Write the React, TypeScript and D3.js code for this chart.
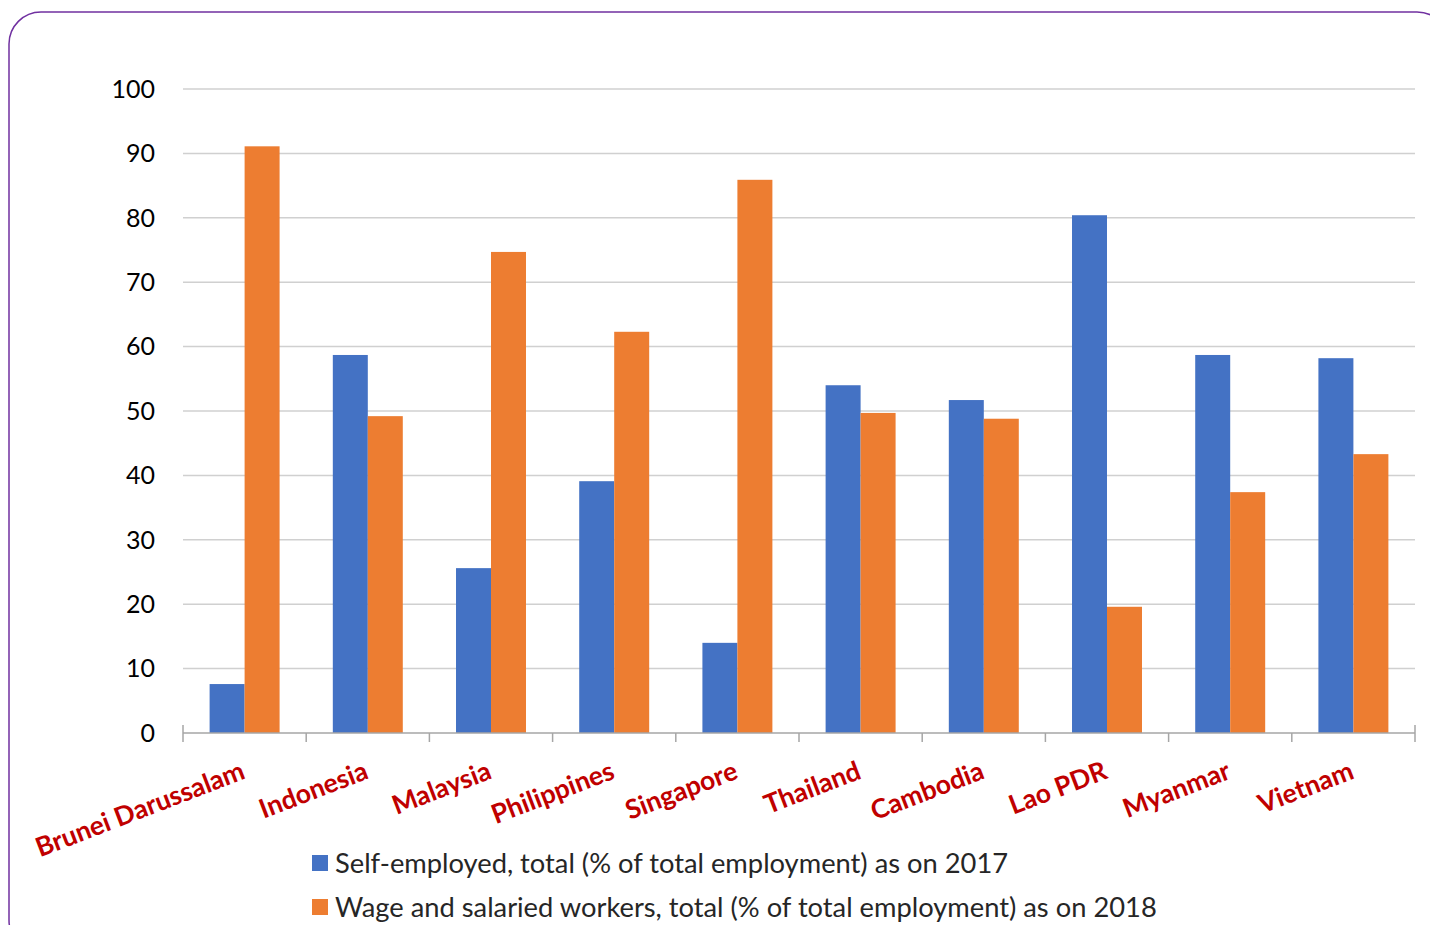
import React from "react";
import * as d3 from "d3";

const categories = [
  "Brunei Darussalam",
  "Indonesia",
  "Malaysia",
  "Philippines",
  "Singapore",
  "Thailand",
  "Cambodia",
  "Lao PDR",
  "Myanmar",
  "Vietnam",
];
const selfEmployed2017 = [7.6, 58.7, 25.6, 39.1, 14.0, 54.0, 51.7, 80.4, 58.7, 58.2];
const wageSalaried2018 = [91.1, 49.2, 74.7, 62.3, 85.9, 49.7, 48.8, 19.6, 37.4, 43.3];
const yTicks = [0, 10, 20, 30, 40, 50, 60, 70, 80, 90, 100];
const seriesNames = [
  "Self-employed, total (% of total employment) as on 2017",
  "Wage and salaried workers, total (% of total employment) as on 2018",
];
const seriesColors = ["#4472C4", "#ED7D31"];

const W = 1430;
const H = 925;
const FONT = "Lato, 'Open Sans', sans-serif";

export default function App() {
  const left = 183;
  const right = 1415;
  const top = 89;
  const bottom = 733;

  const x = d3.scaleBand<string>().domain(categories).range([left, right]).paddingInner(0).paddingOuter(0);
  const y = d3.scaleLinear().domain([0, 100]).range([bottom, top]);
  const bw = x.bandwidth();
  const barW = bw * 0.284;
  const gapOuter = (bw - 2 * barW) / 2;
  const series = [selfEmployed2017, wageSalaried2018];
  const tickXs = categories.map((c) => x(c) as number).concat([right]);

  return (
    <svg
      width={W}
      height={H}
      style={{ position: "absolute", left: 0, top: 0, background: "#fff" }}
      fontFamily={FONT}
    >
      <rect x={9} y={12} width={1440} height={940} rx={32} ry={32} fill="none" stroke="#7030A0" strokeWidth={1.5} />
      {yTicks.map((t) => (
        <g key={t}>
          {t > 0 && (
            <line x1={left} x2={right} y1={y(t)} y2={y(t)} stroke="#D0D0D0" strokeWidth={1.5} />
          )}
          <text x={155} y={y(t)} dy="0.35em" textAnchor="end" fontSize={25} fill="#000">
            {t}
          </text>
        </g>
      ))}
      {series.map((vals, si) =>
        categories.map((c, i) => {
          const x0 = (x(c) as number) + gapOuter + si * barW;
          return (
            <rect
              key={si + "-" + c}
              x={x0}
              y={y(vals[i])}
              width={barW}
              height={y(0) - y(vals[i])}
              fill={seriesColors[si]}
            />
          );
        })
      )}
      <line x1={left} x2={right} y1={bottom} y2={bottom} stroke="#A6A6A6" strokeWidth={1.5} />
      {tickXs.map((tx, i) => (
        <line key={i} x1={tx} x2={tx} y1={i === 0 || i === tickXs.length - 1 ? bottom - 8 : bottom} y2={bottom + 9} stroke="#A6A6A6" strokeWidth={1.5} />
      ))}
      {categories.map((c) => {
        const cx = (x(c) as number) + bw / 2 + 2;
        const cy = 778;
        return (
          <text
            key={c}
            x={cx}
            y={cy}
            textAnchor="end"
            fontSize={26.5}
            fontWeight="bold"
            fill="#C00000"
            transform={`rotate(-21 ${cx} ${cy})`}
          >
            {c}
          </text>
        );
      })}
      {seriesNames.map((n, i) => (
        <g key={n}>
          <rect x={312} y={855 + i * 44} width={16} height={16} fill={seriesColors[i]} />
          <text x={335} y={863 + i * 44} dy="0.35em" fontSize={27.3} fill="#262626">
            {n}
          </text>
        </g>
      ))}
    </svg>
  );
}
